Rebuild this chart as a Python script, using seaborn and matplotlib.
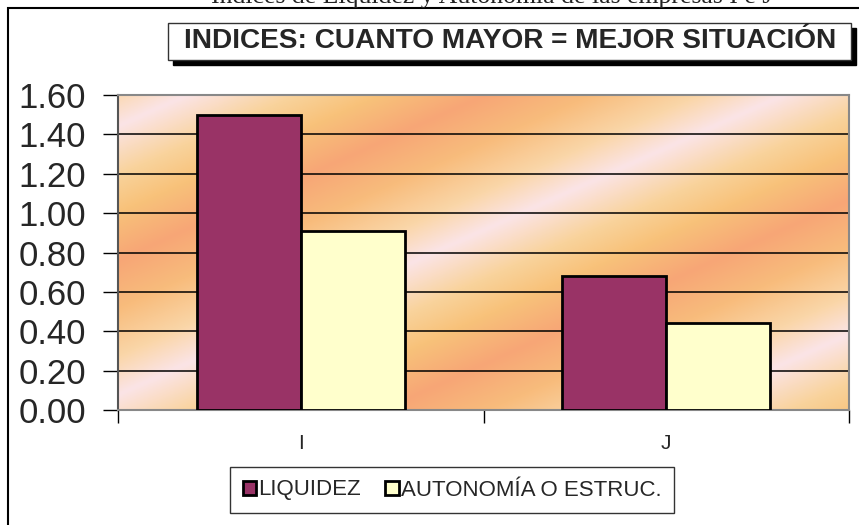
import matplotlib
matplotlib.use("Agg")
import matplotlib.pyplot as plt
import numpy as np
import pandas as pd
import seaborn as sns
from matplotlib.colors import LinearSegmentedColormap
from matplotlib.patches import Rectangle

empresas = ['I', 'J']
liquidez = [1.50, 0.68]
autonomia = [0.91, 0.44]
series = ['LIQUIDEZ', 'AUTONOMÍA O ESTRUC.']
yticks = [0.0, 0.2, 0.4, 0.6, 0.8, 1.0, 1.2, 1.4, 1.6]

df = pd.DataFrame({
    'Empresa': empresas * 2,
    'Valor': liquidez + autonomia,
    'Indice': [series[0]] * 2 + [series[1]] * 2,
})

sns.set_style("white")
plt.rcParams['font.family'] = ['Liberation Sans', 'DejaVu Sans']

W, H = 859, 525
fig = plt.figure(figsize=(W / 100, H / 100), dpi=100)
ax = fig.add_axes([118 / W, 1 - 410 / H, (849 - 118) / W, (410 - 95) / H])

# fondo degradado estilo Excel
fx, fy = np.meshgrid(np.linspace(0, 1, 400), np.linspace(0, 1, 200))
phase = ((15 - 315 * fy + 330 * fx) / 270) % 1.0
cmap = LinearSegmentedColormap.from_list('fondo', [
    (0.0, '#fbe4e6'), (0.18, '#f9d39c'), (0.32, '#f8c27a'),
    (0.5, '#f7a676'), (0.68, '#f8bc7c'), (0.86, '#fad6a8'), (1.0, '#fbe4e6')])
ax.imshow(phase, cmap=cmap, extent=(0, 1, 0, 1), transform=ax.transAxes,
          aspect='auto', origin='lower', zorder=0, interpolation='bilinear')

sns.barplot(data=df, x='Empresa', y='Valor', hue='Indice',
            palette=['#993366', '#ffffcc'], saturation=1, width=0.57,
            edgecolor='black', linewidth=2, ax=ax, zorder=3)

ax.set_xlim(-0.5, 1.5)
ax.set_ylim(0, 1.6)
ax.set_yticks(yticks)
ax.set_yticklabels([f'{v:.2f}' for v in yticks], fontsize=25)
ax.yaxis.grid(True, color='black', linewidth=1.1)
ax.set_axisbelow(True)
ax.set_xlabel('')
ax.set_ylabel('')

ax.tick_params(axis='y', direction='out', length=11, width=1, color='black', pad=12, left=True)
ax.tick_params(axis='x', which='major', length=0, pad=17, labelsize=15)
ax.set_xticks([-0.5, 0.5, 1.5], minor=True)
ax.tick_params(axis='x', which='minor', direction='out', length=9, width=1, color='black', bottom=True)

for s in ax.spines.values():
    s.set_color('#888888')
    s.set_linewidth(1.5)
ax.spines['left'].set_color('#555555')

handles, labels = ax.get_legend_handles_labels()
ax.legend(handles, labels, loc='center', bbox_to_anchor=(452 / W, 1 - 490 / H),
          bbox_transform=fig.transFigure, ncol=2, frameon=True, fancybox=False,
          edgecolor='black', fontsize=16, handlelength=0.6, handleheight=0.6,
          handletextpad=0.1, columnspacing=1.1, borderpad=0.55)
ax.get_legend().get_frame().set_linewidth(1)

# marco exterior
fig.patches.append(Rectangle((8 / W, -0.1), 1.2, 1 - 8 / H + 0.1, transform=fig.transFigure,
                             fill=False, edgecolor='black', linewidth=1.5))

# titulo recortado arriba (en el original solo se ve la parte inferior)
fig.text(492 / W, 1 - 3 / H, 'Índices de Liquidez y Autonomía de las empresas I e J',
         ha='center', va='baseline', fontsize=18.5, family='Liberation Serif', color='#222222')

# caja del titulo con sombra
fig.patches.append(Rectangle((173 / W, 1 - 65 / H), (851 - 168) / W, (60 - 23) / H,
                             transform=fig.transFigure, facecolor='black', edgecolor='black'))
fig.patches.append(Rectangle((168 / W, 1 - 60 / H), (851 - 168) / W, (60 - 23) / H,
                             transform=fig.transFigure, facecolor='white', edgecolor='#333333',
                             linewidth=1))
fig.text(510 / W, 1 - 41.5 / H, 'INDICES: CUANTO MAYOR = MEJOR SITUACIÓN',
         ha='center', va='center', fontsize=20.2, fontweight='bold')

fig.savefig('out.png', dpi=100)
